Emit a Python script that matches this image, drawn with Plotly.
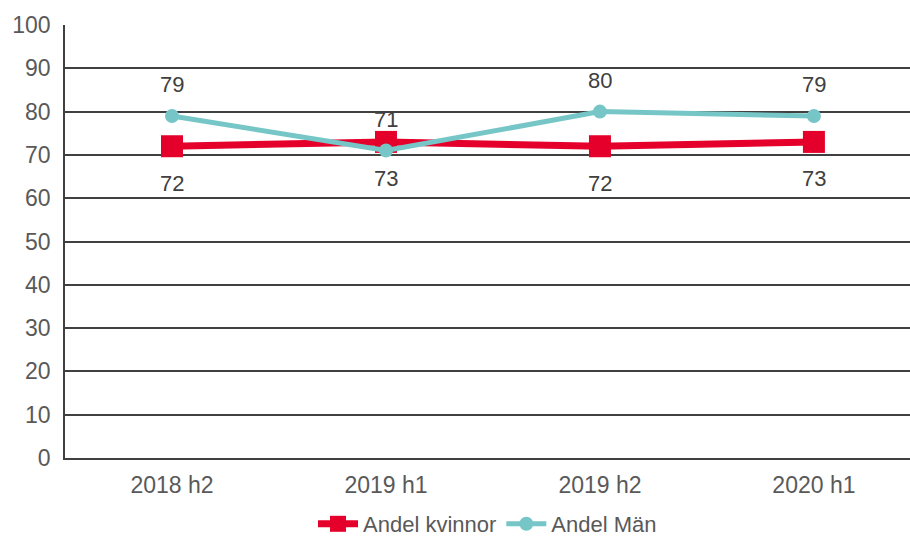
import plotly.graph_objects as go

# DATA

periods = ["2018 h2", "2019 h1", "2019 h2", "2020 h1"]
andel_kvinnor = [72, 73, 72, 73]
andel_man = [79, 71, 80, 79]
y_ticks = [0, 10, 20, 30, 40, 50, 60, 70, 80, 90, 100]

RED = "#E4002B"
TEAL = "#76C6C7"
GREY = "#595959"
FONT = "Liberation Sans, Arial, sans-serif"

# CHART

fig = go.Figure()

fig.add_trace(go.Scatter(
    x=periods, y=andel_kvinnor, name="Andel kvinnor",
    mode="lines+markers",
    line=dict(color=RED, width=7),
    marker=dict(symbol="square", size=22, color=RED),
))

fig.add_trace(go.Scatter(
    x=periods, y=andel_man, name="Andel Män",
    mode="lines+markers",
    line=dict(color=TEAL, width=5),
    marker=dict(symbol="circle", size=14, color=TEAL),
))

# data labels: women below, men above
for p, v in zip(periods, andel_kvinnor):
    fig.add_annotation(x=p, y=v, text=str(v), showarrow=False, yshift=-37,
                       font=dict(size=22, color="#404040", family=FONT))
for p, v in zip(periods, andel_man):
    fig.add_annotation(x=p, y=v, text=str(v), showarrow=False, yshift=31,
                       font=dict(size=22, color="#404040", family=FONT))

fig.update_layout(
    width=910, height=545,
    margin=dict(l=65, r=0, t=25, b=87, autoexpand=False),
    plot_bgcolor="white", paper_bgcolor="white",
    font=dict(family=FONT, size=20, color=GREY),
    showlegend=True,
    legend=dict(orientation="h", x=0.5, xanchor="center",
                yref="container", y=-0.02, yanchor="bottom",
                font=dict(size=22, color=GREY), itemwidth=40),
)

fig.update_xaxes(
    type="category", range=[-0.5, 3.449], automargin=False,
    showgrid=False, showline=True, linecolor="#404040", linewidth=1.5,
    ticks="", ticklabelstandoff=6, tickfont=dict(size=23, color=GREY),
)
fig.update_yaxes(
    range=[0, 100], tickvals=y_ticks, automargin=False,
    showgrid=True, gridcolor="#404040", gridwidth=1.5,
    showline=True, linecolor="#404040", linewidth=1.5,
    zeroline=True, zerolinecolor="#404040", zerolinewidth=1.5,
    ticks="", ticklabelstandoff=8, tickfont=dict(size=23, color=GREY),
)

# drop the default 8px page margin so the figure fills the window exactly
fig.write_html("out.html", config={"displayModeBar": False},
               post_script="document.body.style.margin = '0';")
